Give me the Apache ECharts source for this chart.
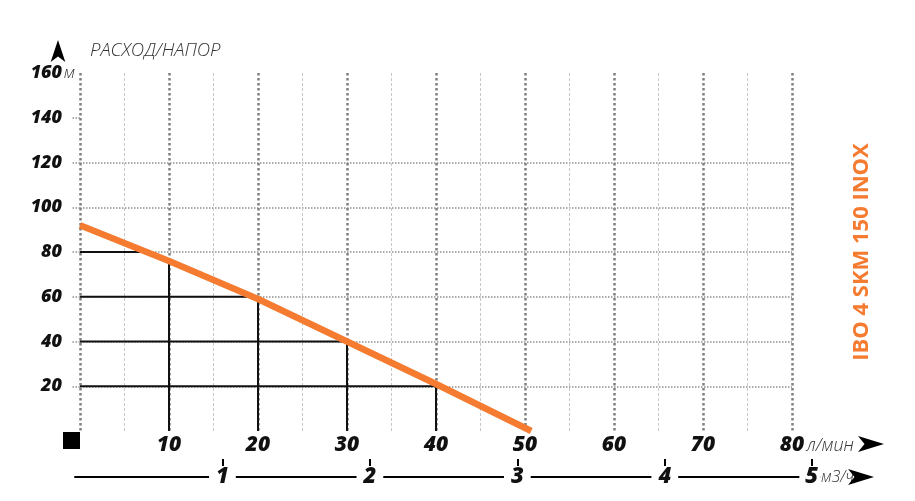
<!DOCTYPE html>
<html><head><meta charset="utf-8">
<script src="https://cdn.jsdelivr.net/npm/echarts@6/dist/echarts.min.js"></script>
<style>html,body{margin:0;padding:0;background:#fff}#c{width:915px;height:501px}</style>
</head><body><div id="c"></div>
<script>
// ---- data ----
const flowLpm = [0, 10, 20, 30, 40, 50.7];
const headM   = [92, 76, 59, 40, 21, 0];
const guideHeads       = [80, 60, 40, 20];
const guideHeadEndFlow = [6.9, 20, 30, 40];
const guideFlows       = [10, 20, 30, 40];
const guideFlowTopHead = [75, 60, 40, 20];
const headTickStubs = [20, 40, 60, 80, 100, 120, 140];
const m3hTicks = [1, 2, 3, 4, 5];
const yTitle = 'РАСХОД/НАПОР';
const unitHead = 'м';
const unitLpm = 'л/мин';
const unitM3h = 'м3/ч';
const modelName = 'IBO 4 SKM 150 INOX';

const ORANGE = '#f47b30';
const FONT = '"Open Sans", "DejaVu Sans", sans-serif';
const numStyle = (fs) => ({fontFamily: FONT, fontSize: fs, fontWeight: 800, fontStyle: 'italic', color: '#111'});
const unitStyle = (fs) => ({fontFamily: FONT, fontSize: fs, fontWeight: 300, fontStyle: 'italic', color: '#333'});

const curve = flowLpm.map((x, i) => [x, headM[i]]);
const guideSeries = [];
guideHeads.forEach((h, i) => guideSeries.push({
  type: 'line', xAxisIndex: 0, yAxisIndex: 0, data: [[0, h], [guideHeadEndFlow[i], h]], symbol: 'none', silent: true,
  lineStyle: {color: '#111', width: 2}, z: 3
}));
guideFlows.forEach((f, i) => guideSeries.push({
  type: 'line', xAxisIndex: 0, yAxisIndex: 0, data: [[f, 0], [f, guideFlowTopHead[i]]], symbol: 'none', silent: true,
  lineStyle: {color: '#111', width: 2}, z: 3
}));

const hidden = {axisLabel: {show: false}, axisTick: {show: false}, splitLine: {show: false}};

const option = {
  backgroundColor: '#fff',
  animation: false,
  grid: [
    {left: 80, right: 123, top: 73, bottom: 70},
    {left: 75, right: 60, top: 476, height: 1}
  ],
  xAxis: [
    { // main l/min axis
      type: 'value', gridIndex: 0, min: 0, max: 80, interval: 10,
      axisLine: {show: false}, axisTick: {show: false},
      splitLine: {show: true, lineStyle: {color: '#808080', width: 2.5, type: 'dotted'}},
      minorTick: {show: false, splitNumber: 2},
      minorSplitLine: {show: true, lineStyle: {color: '#c8c8c8', width: 1, type: [3, 2]}},
      axisLabel: {
        margin: 1,
        formatter: function (v) {
          if (v === 0) return '{sq|}{sp0|}';
          if (v === 80) return '{sp|}{n|80}{u|' + unitLpm + '}';
          return '{n|' + v + '}';
        },
        rich: {
          n: Object.assign(numStyle(21), {padding: [5, 0, 0, 0], lineHeight: 22}),
          u: Object.assign(unitStyle(18), {padding: [5, 0, 0, 0], lineHeight: 22, width: 52}),
          sp: {width: 52},
          sq: {width: 17, height: 17, backgroundColor: '#000'},
          sp0: {width: 17, height: 17}
        }
      }
    },
    { // arrow of the l/min row
      type: 'value', gridIndex: 0, min: 0, max: 80, position: 'bottom', offset: 13,
      axisLine: {show: true, onZero: false, symbol: ['none', 'arrow'], symbolSize: [12, 26], symbolOffset: [0, 92],
        lineStyle: {color: '#000', opacity: 0}},
      ...hidden
    },
    { // m3/h axis line, ticks and labels
      type: 'value', gridIndex: 1, min: 0, max: 5.29, position: 'bottom',
      axisLine: {show: true, onZero: false, symbol: ['none', 'arrow'], symbolSize: [12, 26], symbolOffset: [0, 19],
        lineStyle: {color: '#000', width: 2}},
      axisTick: {show: true, inside: true, customValues: m3hTicks, length: 18, lineStyle: {color: '#000', width: 2}},
      splitLine: {show: false},
      axisLabel: {
        customValues: m3hTicks, margin: -11,
        formatter: function (v) {
          if (v === 5) return '{sp|}{n5|5}{u|' + unitM3h + '}';
          return '{n|' + v + '}';
        },
        rich: {
          n: Object.assign(numStyle(22), {lineHeight: 22, backgroundColor: '#fff', padding: [0, 7]}),
          n5: Object.assign(numStyle(22), {lineHeight: 22, backgroundColor: '#fff', padding: [0, 2, 0, 6]}),
          u: Object.assign(unitStyle(16), {lineHeight: 22, backgroundColor: '#fff', width: 35}),
          sp: {width: 30, lineHeight: 22}
        }
      }
    }
  ],
  yAxis: [
    { // main head axis
      type: 'value', gridIndex: 0, min: 0, max: 160, interval: 20,
      axisLine: {show: false},
      axisTick: {show: true, customValues: headTickStubs, length: 8, lineStyle: {color: '#909090', width: 1.5, type: 'dotted'}},
      splitLine: {show: true, showMaxLine: false, lineStyle: {color: '#909090', width: 1.5, type: 'dotted'}},
      name: yTitle, nameLocation: 'end', nameGap: 22,
      nameTextStyle: Object.assign(unitStyle(18.5), {align: 'left', verticalAlign: 'middle', padding: [0, 0, 0, 10]}),
      axisLabel: {
        margin: 5,
        formatter: function (v) {
          if (v === 0) return '';
          if (v === 160) return '{n|160}{u|' + unitHead + '}';
          return '{n|' + v + '}{sp|}';
        },
        rich: {
          n: numStyle(18),
          u: Object.assign(unitStyle(17), {width: 13}),
          sp: {width: 13}
        }
      }
    },
    { // arrow above the head axis
      type: 'value', gridIndex: 0, min: 0, max: 160, position: 'left', offset: 22,
      axisLine: {show: true, onZero: false, symbol: ['none', 'arrow'], symbolSize: [11, 22], symbolOffset: [0, 33],
        lineStyle: {color: '#000', opacity: 0}},
      ...hidden
    },
    { // right side model title
      type: 'value', gridIndex: 0, min: 0, max: 160, position: 'right',
      axisLine: {show: false, onZero: false}, ...hidden,
      name: modelName, nameLocation: 'middle', nameRotate: 90, nameGap: 59,
      nameTextStyle: {fontFamily: FONT, fontSize: 22, fontWeight: 'bold', color: ORANGE}
    },
    {type: 'value', gridIndex: 1, min: 0, max: 1, show: false}
  ],
  series: [
    ...guideSeries,
    {
      type: 'line', xAxisIndex: 0, yAxisIndex: 0, data: curve, symbol: 'none',
      lineStyle: {color: ORANGE, width: 6.5}, z: 5, silent: true
    }
  ]
};

const chart = echarts.init(document.getElementById('c'), null, {renderer: 'canvas'});
chart.setOption(option);
</script>
</body></html>
